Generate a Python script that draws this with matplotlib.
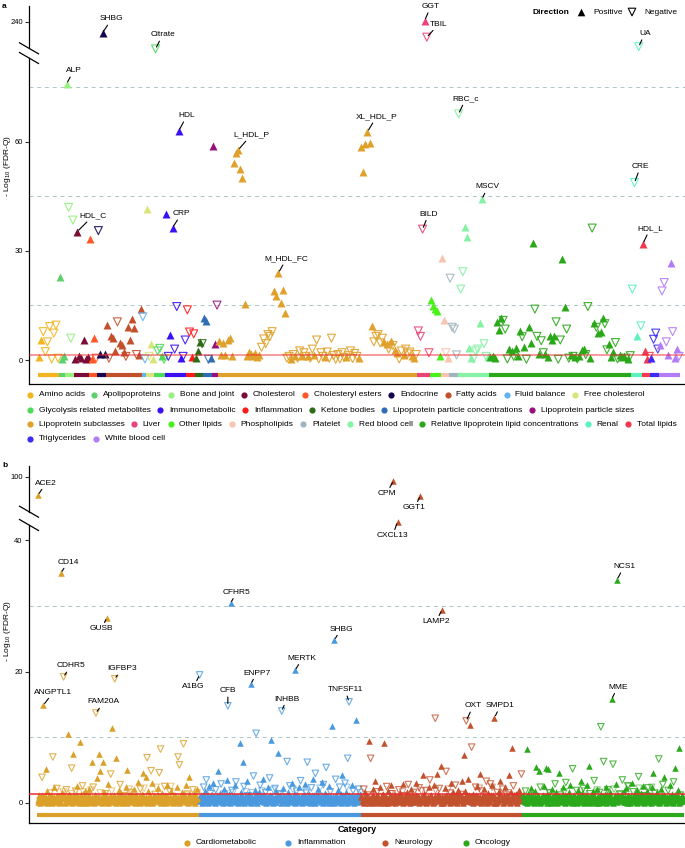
import numpy as np
import matplotlib
matplotlib.use("Agg")
import matplotlib.pyplot as plt

plt.rcParams['font.family'] = ['Liberation Sans', 'DejaVu Sans']
plt.rcParams['mathtext.fontset'] = 'custom'
plt.rcParams['mathtext.rm'] = 'Liberation Sans'

# ---------------- panel a : signed -log10(FDR-Q), sign = direction ----------------
a_categories = [
	"Amino acids", "Apolipoproteins", "Bone and joint", "Cholesterol", "Cholesteryl esters",
	"Endocrine", "Fatty acids", "Fluid balance", "Free cholesterol", "Glycolysis related metabolites",
	"Immunometabolic", "Inflammation", "Ketone bodies", "Lipoprotein particle concentrations",
	"Lipoprotein particle sizes", "Lipoprotein subclasses", "Liver", "Other lipids", "Phospholipids",
	"Platelet", "Red blood cell", "Relative lipoprotein lipid concentrations", "Renal",
	"Total lipids", "Triglycerides", "White blood cell",
]
a_colors = [
	"#F2B51F", "#5ED06D", "#98F07E", "#7B0C35", "#FF5626", "#16064F", "#C2512B", "#63B4F4",
	"#D9E47A", "#4FDB5A", "#3C10F5", "#FF1A1A", "#2D6B15", "#2F6DB3", "#94117E", "#DFA12B",
	"#EA4477", "#4BF01B", "#F8C3AF", "#A2B4BF", "#86F2A5", "#2BA819", "#5CF2C0", "#F2394F",
	"#3B2BF7", "#B47BF7",
]

amino_acids = [0.9, 5.5, -7.8, -2.3, -5, -9.2, -0.3, -7.4, -9.6, -0.5]
apolipoproteins = [22.9, 0.3, 1.2]
bone_and_joint = [76, -42, -6, -38.5]
cholesterol = [0.4, 35.3, 1, 0.6, 5.5, 0.3, 0.8]
cholesteryl_esters = [33.3, 0.2, 6, -0.5]
endocrine = [-35.6, 1.6, 228, 1.7]
fatty_acids = [9.6, -0.5, 6.7, 6, 2.5, -10.5, 4.7, 4, 2.2, -1, 9.2, 5.5, 11.3, 8.8, -1.5, 1.5, 14]
fluid_balance = [-11.9, -0.3]
free_cholesterol = [41.5, -1, 4.3, 0.3]
glycolysis = [-210.4, -2.5, -3.2, 1, -0.2]
immunometabolic = [40.2, -1, 7, 36.4, -3, -14.7, 63.1, 0.5, -1, -5.5]
inflammation = [-13.8, -7.7, 0.8, -7.2]
ketone_bodies = [0.6, 2.6, 5, -4.5]
lp_concentrations = [11.5, 10.7, -0.2, 0.5]
lp_sizes = [58.9, 4.4, -15.1]
lp_subclasses = [
	5.2, 1.4, 4.8, 1.5, 5.5, 6, 1.2, 54.3, 57, 57.8, 52.6, 50.1, 15.3,
	1.1, 2.2, 1.6, 1.2, 2, 0.8, 1.5, -3.5, -5.8, -4.5, -7, -6.5, -7.8,
	19, 17.6, 24, 15.6, 19.2, 13,
	-0.5, -1, 0.3, -1.5, 1, -0.5, -2.5, 1.2, -2, -1, 1.2, -0.5, -3, 1.5, -5.5, -0.3, -2, -1,
	0.8, -2.2, -0.5, -6, -1.2, -0.2, -1.5, -0.3, -2, -0.7, 0.9, -1.2, -2.5, -0.4, -1.8, -1, 0.5,
	58.6, 51.6, 59.5, 62.8, 59.8, 9.4,
	-5, -6.5, -7, -4.7, -6, 5, 4.5, -3, 5.2, -4, 2.7, 2, -0.3, -2.5, 1.5, -3, -1.7, -2.2, 1.1, 0.5, -1.5,
]
liver = [-8, -6.5, -36, 241.6, -223.3, -2]
other_lipids = [16.5, 14.8, 14, 13.5, 1]
phospholipids = [28.2, 11, -2, 0.5]
platelet = [-22.5, -9, -8.5, -1.4]
red_blood_cell = [-67.7, -19.5, -24.3, 36.6, 33.8, 3.3, 0.5, -0.3, -2.5, -3, 10.3, 44.3, -4.5, -1, 0.8]
relative_lipids = [
	0.9, 1.2, 0.5, 10.5, 8.3, 11.5, -10.9, -8.5, -0.3, 3, 2.5, -1, 3.2, 1, 8, -6.4, 3.5, -0.2,
	9.1, 4.7, 32.2, -14, -6.5, 1.6, -5.3, -2, 1.7, 0.8, 6.7, 5.4, 6.6, -10.5, -0.2, -5.5, 27.8,
	14.7, -8.5, -0.5, 1.5, -1, 0.8, -0.3, 1.2, 2.7, 3, -1.5, -14.7, 0.5, -36.3, 10.3, -9, 7.5,
	7.8, 11.6, -10, -2.8, 4.3, 0.7, 2.3, -4.8, -0.3, 1.5, 0.8, 1.2, -0.5, 0.3, -1.2,
]
renal = [-19.5, -48.8, 6.6, -212.9, -9.4]
total_lipids = [32, 2.5, 0.3, -1]
triglycerides = [0.5, -5.7, -7.4, -3]
white_blood_cell = [4.1, -19, -21.3, -5, 1.5, 26.6, -7.8, 0.5, 3, -1]

a_values = [
	amino_acids, apolipoproteins, bone_and_joint, cholesterol, cholesteryl_esters, endocrine,
	fatty_acids, fluid_balance, free_cholesterol, glycolysis, immunometabolic, inflammation,
	ketone_bodies, lp_concentrations, lp_sizes, lp_subclasses, liver, other_lipids, phospholipids,
	platelet, red_blood_cell, relative_lipids, renal, total_lipids, triglycerides, white_blood_cell,
]

a_labels = [
	("SHBG", "Endocrine", 228), ("Citrate", "Glycolysis related metabolites", -210.4),
	("ALP", "Bone and joint", 76), ("HDL", "Immunometabolic", 63.1),
	("L_HDL_P", "Lipoprotein subclasses", 57.8), ("XL_HDL_P", "Lipoprotein subclasses", 62.8),
	("M_HDL_FC", "Lipoprotein subclasses", 24), ("HDL_C", "Cholesterol", 35.3),
	("CRP", "Immunometabolic", 36.4), ("GGT", "Liver", 241.6), ("TBIL", "Liver", -223.3),
	("BILD", "Liver", -36), ("UA", "Renal", -212.9), ("RBC_c", "Red blood cell", -67.7),
	("CRE", "Renal", -48.8), ("MSCV", "Red blood cell", 44.3), ("HDL_L", "Total lipids", 32),
]

# ---------------- panel b : proteins ----------------
b_categories = ["Cardiometabolic", "Inflammation", "Neurology", "Oncology"]
b_colors = ["#DBA02A", "#4A99DE", "#C2522E", "#2BA81B"]

cardiometabolic = [
	75.4, 1.2, 0.4, -3.9, 14.9, 0.8, 5.2, 1.9, 0.3, -1.5, 0.9, -7, 2.4, 0.6, -2.2, 1.1, 0.2, 35,
	1.6, -19.2, 0.7, -2, 10.5, 1.3, 0.4, -5.3, 7.5, 1, -1.8, 2.6, 0.5, 9.3, 1.4, -2.6, 0.3, 1.8,
	-1.2, 0.9, 2.2, 0.1, 6.3, -2.4, 1.2, -13.7, 3.8, 7.4, 4.9, 0.6, 6.2, 1.7, -1.4, 28.2, 2.9,
	0.8, -4.4, 11.4, 1.1, -18.9, 6.9, 0.4, 2, -2.8, 1.5, 0.2, -1.1, 2.5, 5, 0.7, -1.6, 1.3, 0.5,
	2.1, -0.8, 1, 3.2, 0.3, -2.1, 1.4, 4.5, 0.6, 4, -6.9, 1.8, 0.2, -4.9, 3.1, 1.2, -1.3, 0.8,
	2.3, -4.6, -8.2, 1.5, 0.4, -2.5, 1.1, 2.7, 0.6, -1.7, 1.9, 0.3, -0.9, 1.2, 2.4, -7, -5.8,
	0.7, 1.6, -9, 0.5, 2.8, -1.2, 4, 1, 0.4, -2, 1.3, 0.8, 2.2, 0.6,
]
inflammation_b = [
	-19.5, 1.2, 0.5, -2.4, 1.8, -3.5, 0.9, 2.6, -1.4, 0.3, 3.1, 1.1, -2, 0.6, 4.8, 1.5, -2.9,
	0.8, 2.2, 0.2, 3.5, -14.8, 1.3, 30.4, -1.9, 0.7, 2.8, -3.2, 1, 0.4, 9.1, 1.6, 6.2, -2.5, 0.9,
	3.3, -1.1, 1.4, 18.1, 0.5, -4.1, 2, -10.6, 0.8, 1.7, -2.7, 0.3, 3.6, 1.2, -1.6, 0.6, 2.5,
	-3.8, 9.6, 1, 0.2, -2.2, 1.9, 7.6, 0.7, -1.3, -14, 2.3, 1.1, 0.4, -6.3, 1.6, -2.6, 0.8, 3,
	1.3, 20.2, -1.8, 0.5, 2.4, -3.4, 1, 0.3, 2.9, -1.5, -6.2, 1.4, 0.6, -2.3, 3.7, 1.2, -4.5,
	0.9, 2.1, -1, 0.4, 3.2, -2.8, 1.5, -5.4, 0.7, 2.6, -1.7, 11.7, 1.1, 24.8, -3.6, 0.5, 2,
	-2.4, 1.3, 4.2, 0.8, -3, 1.6, -6.8, -15.4, 0.6, 2.7, -1.9, 1, 12.6, 0.3, -2.1, 1.4,
]
neurology = [
	1.1, 0.4, -2.1, 1.6, 0.8, -1.2, 9.5, -6.8, 0.3, 2.2, 3.4, 1, -1.7, 0.6, 2.4, -0.9, 1.3, 9.2,
	0.5, -2.5, 1.8, 0.2, 2.7, -1.4, 94.7, 1.2, 0.7, 42.8, -2, 1.5, 0.4, 2.9, -1.1, 0.9, 1.7,
	-2.8, 0.3, 2.1, 1.2, -1.6, 0.6, 3.1, 1, -2.3, 74.5, 0.8, 4.3, 1.4, -1.9, 0.5, 2.5, -3.5,
	1.1, 0.2, 2.8, -12.9, 4.4, 1.3, -2.2, 5.6, 29.4, 0.7, 2.3, -4.8, 1, 0.4, -1.5, 3, 1.6, 0.3,
	-2.7, 1.2, 2, 0.6, -1.3, 3.4, 7.3, 1.9, -12.5, 3.6, 0.8, 11.8, -8.5, 1.4, 0.5, -2.4, 2.6,
	1.1, 4.4, -1.8, 0.9, 2.2, 0.4, -3.3, 1.5, 0.7, -2.9, 2.7, 1.2, 13, 0.3, -1.6, 1.8, 3.3, 0.6,
	-2.1, 1, 2.4, -1.2, 0.5, 4.3, 1.7, 8.3, -2.6, 0.8, 1.3, -1, 2, 0.4, -4.4,
]
oncology = [
	1.2, 0.5, -1.8, 8.2, 1.4, 0.3, 2.3, -1.1, 0.8, 1.9, 5.5, 0.6, 4.8, -2.4, 1.1, 0.4, 2.6, 5.4,
	1.3, 5.1, -1.5, 0.7, 2.1, 0.2, -2.9, 1.6, 0.9, 4.6, -1.2, 0.5, 2.4, 1, -3.1, 0.3, 1.7, 2.8,
	0.6, -5.2, 1.2, 0.4, -1.9, 2, 0.8, 3.3, 1.5, -2.2, 0.2, 1.1, 2.7, 5.6, -1.4, 0.7, 1.8, -3.4,
	0.5, 2.2, 1, -1.6, -11.6, 0.3, -6.3, 1.4, 2.5, -2, 0.9, 1.6, 15.8, -5.9, 0.4, 2.9, 34, 1.2,
	-1.3, 0.6, -3.5, 1.9, 0.2, 2.3, -2.6, 1, 0.5, 3, -1.7, 1.3, 0.8, 2, -4, 0.4, 1.5, 2.6, -1.1,
	0.7, 1.8, -2.3, 0.3, 1.2, 2.4, 4.6, -1.5, 0.9, 1.6, -6.7, 0.5, 2.1, -2.8, 4, 1.1, 0.3, -1.9,
	2.7, 0.6, 1.4, -3.2, 5.3, 0.8, 2, 8.3, -1.2, 1, 0.4,
]
b_values = [cardiometabolic, inflammation_b, neurology, oncology]

# non-significant proteins forming the dense band; one character per protein,
# base-20 code in steps of 0.14: '0'-'9' positive (filled), 'a'-'j' negative (open, above the band)
cardiometabolic_bg = (
	"31705294618273051946280375162940837159c6"
	"0847261593a02817463950271840c6392051873e"
	"6152093847162b5038274916052837d419620573"
	"8241960375182049f637152803946217058392g4"
	"1705384926071853h492615038271940856317i2"
	"5093817264051928374615a02938471650283b47"
)
inflammation_bg = (
	"52830169473820517493628104957362184059a7"
	"1946207358b192847063519284037c562918407b"
	"2736190485726d3918406275193840e52718394a"
	"9304827156038294715f6203948175260384915c"
	"4817305926180473952g61840372951840637125"
	"0629384157203946185h0729361845027391846b"
)
neurology_bg = (
	"7261038594720153869402718365014927380615"
	"4039a71852903648271953c08274615930471826"
	"1593827046d19382705164829370518e46293750"
	"8406172935f80614927358104629378105647293"
	"2958140376294815g630729185403762198h5403"
	"6017283946501827394b61052839476102938475"
)
oncology_bg = (
	"3928175064831927504618293705164928370516"
	"9b40728361950482736194c08273519460382715"
	"2059381746205d93817406259381740e62059318"
	"7164029358716402f93581764a293581764029i5"
	"0483627195048g362719504836271950h4836271"
	"5830164927593016482751301649275830164927"
)
b_background = [cardiometabolic_bg, inflammation_bg, neurology_bg, oncology_bg]

b_labels = [
	("ACE2", "Cardiometabolic", 75.4), ("ANGPTL1", "Cardiometabolic", 14.9),
	("CD14", "Cardiometabolic", 35), ("CDHR5", "Cardiometabolic", -19.2),
	("FAM20A", "Cardiometabolic", -13.7), ("GUSB", "Cardiometabolic", 28.2),
	("IGFBP3", "Cardiometabolic", -18.9), ("A1BG", "Inflammation", -19.5),
	("CFB", "Inflammation", -14.8), ("CFHR5", "Inflammation", 30.4),
	("ENPP7", "Inflammation", 18.1), ("INHBB", "Inflammation", -14),
	("MERTK", "Inflammation", 20.2), ("SHBG", "Inflammation", 24.8),
	("TNFSF11", "Inflammation", -15.4), ("CPM", "Neurology", 94.7),
	("CXCL13", "Neurology", 42.8), ("GGT1", "Neurology", 74.5), ("LAMP2", "Neurology", 29.4),
	("OXT", "Neurology", -12.5), ("SMPD1", "Neurology", 13), ("NCS1", "Oncology", 34),
	("MME", "Oncology", 15.8),
]

# label offsets in pixels (dx, dy up)
a_offsets = {
	"SHBG": (9, 14), "Citrate": (7, 14), "ALP": (7, 13), "HDL": (8, 15), "L_HDL_P": (13, 15),
	"XL_HDL_P": (9, 15), "M_HDL_FC": (8, 14), "HDL_C": (16, 16), "CRP": (9, 14), "GGT": (6, 14),
	"TBIL": (12, 13), "UA": (6, 13), "RBC_c": (7, 15), "CRE": (6, 16), "MSCV": (6, 12),
	"BILD": (6, 15), "HDL_L": (7, 15),
}
b_offsets = {
	"ACE2": (8, 12), "CD14": (7, 11), "GUSB": (-5, -11), "CDHR5": (7, 11), "IGFBP3": (7, 10),
	"ANGPTL1": (10, 13), "FAM20A": (8, 11), "A1BG": (-6, -12), "CFB": (0, 15), "CFHR5": (6, 11),
	"ENPP7": (6, 11), "MERTK": (7, 12), "SHBG": (7, 11), "INHBB": (5, 12), "TNFSF11": (-4, 12),
	"CPM": (-7, -13), "GGT1": (-6, -12), "CXCL13": (-5, -14), "LAMP2": (-6, -12), "NCS1": (7, 13),
	"MME": (6, 12), "OXT": (7, 15), "SMPD1": (6, 12),
}

W, H = 685, 848
fig = plt.figure(figsize=(W / 100, H / 100), dpi=100)


def px_axes(left, top, right, bottom):
	return fig.add_axes([left / W, 1 - bottom / H, (right - left) / W, (bottom - top) / H])


def broken_scale(low_top, gap_top, up_start, slope):
	"""piecewise linear y transform that squeezes the gap between two ranges"""
	xp = np.array([-1e3, low_top, up_start, 1e4])
	fp = np.array([-1e3, low_top, gap_top, gap_top + (1e4 - up_start) * slope])
	return (lambda y: np.interp(y, xp, fp)), (lambda t: np.interp(t, fp, xp))


def decode_band(code):
	vals = np.array([int(ch, 20) for ch in code]) * 0.14
	is_open = np.array([ch.isalpha() for ch in code])
	return vals, is_open


def plot_groups(ax, groups, colors, size, strip_y, open_alpha, backgrounds=None):
	x0 = 0
	starts = []
	for g, (vals, col) in enumerate(zip(groups, colors)):
		v = np.array(vals, dtype=float)
		x = np.arange(x0, x0 + len(v))
		if backgrounds is not None:
			bv, bopen = decode_band(backgrounds[g])
			bx = x0 - 0.5 + (np.arange(len(bv)) + 0.5) * len(v) / len(bv)
			ax.scatter(bx[~bopen], bv[~bopen], marker='^', s=size, color=col, linewidths=0, zorder=2.6)
			ax.scatter(bx[bopen], bv[bopen], marker='v', s=size, facecolors='none', edgecolors=col,
					   linewidths=0.7, alpha=0.6, zorder=2.5)
		up = v >= 0
		ax.scatter(x[up], v[up], marker='^', s=size, color=col, linewidths=0, zorder=3)
		ax.scatter(x[~up], -v[~up], marker='v', s=size, facecolors='none', edgecolors=col,
				   linewidths=0.8, alpha=open_alpha, zorder=3)
		ax.plot([x0 - 0.5, x0 + len(v) - 0.5], [strip_y, strip_y], color=col, lw=3,
				solid_capstyle='butt', zorder=2, clip_on=False)
		starts.append(x0)
		x0 += len(v)
	return starts, x0


def style_axes(ax, fwd, inv, ylim, ticks, n, first_px, last_px, gap_fracs):
	ax.set_yscale('function', functions=(fwd, inv))
	ax.set_ylim(ylim)
	step = (last_px - first_px) / (n - 1)
	left_px = ax.get_position().x0 * W
	right_px = ax.get_position().x1 * W
	ax.set_xlim(-(first_px - left_px) / step, (n - 1) + (right_px - last_px) / step)
	ax.set_yticks(ticks)
	ax.set_yticklabels([str(t) for t in ticks])
	ax.set_xticks([])
	for side in ['top', 'right', 'left']:
		ax.spines[side].set_visible(False)
	ax.spines['bottom'].set_linewidth(0.9)
	ax.tick_params(axis='y', length=3, width=0.8, labelsize=5.5, pad=1.5, color='#333333')
	# left axis line with a gap at the break
	ax.plot([0, 0], [0, gap_fracs[0]], transform=ax.transAxes, color='black', lw=0.9, clip_on=False)
	ax.plot([0, 0], [gap_fracs[1], 1], transform=ax.transAxes, color='black', lw=0.9, clip_on=False)


def add_labels(ax, labels, offsets, groups, cats, starts):
	for name, cat, val in labels:
		k = cats.index(cat)
		i = starts[k] + groups[k].index(val)
		ax.annotate(name, xy=(i, abs(val)), xytext=offsets[name], textcoords='offset pixels',
					ha='center', va='center', fontsize=6,
					arrowprops=dict(arrowstyle='-', color='black', lw=0.8, shrinkA=0, shrinkB=1.5),
					zorder=6)


DASH = '#A8C6C8'
RED = '#EE2A2E'

# ---------------- panel a ----------------
ax_a = px_axes(29, 6, 685, 384)
fwd_a, inv_a = broken_scale(82, 83, 200, 0.25)
starts_a, n_a = plot_groups(ax_a, a_values, a_colors, 33, -4.1, 0.9)
for yv in [15, 45, 75]:
	ax_a.axhline(yv, color=DASH, lw=0.7, ls=(0, (4, 4)), zorder=1)
ax_a.axhline(1.3, color=RED, lw=1.1, alpha=0.6, zorder=4)
style_axes(ax_a, fwd_a, inv_a, (-6.6, 257.6), [0, 30, 60, 240], n_a, 39, 679,
		   ((384 - 58) / 378, (384 - 48.3) / 378))
add_labels(ax_a, a_labels, a_offsets, a_values, a_categories, starts_a)

# ---------------- panel b ----------------
ax_b = px_axes(29, 466, 685, 822.7)
fwd_b, inv_b = broken_scale(43, 44, 50, 0.1132)
starts_b, n_b = plot_groups(ax_b, b_values, b_colors, 22, -1.8, 0.8, backgrounds=b_background)
for yv in [10, 30]:
	ax_b.axhline(yv, color=DASH, lw=0.7, ls=(0, (4, 4)), zorder=1)
ax_b.axhline(1.3, color=RED, lw=1.1, zorder=4)
style_axes(ax_b, fwd_b, inv_b, (-3.0, 114.5), [0, 20, 40, 100], n_b, 38, 683,
		   ((822.7 - 525) / 356.7, (822.7 - 511.7) / 356.7))
add_labels(ax_b, b_labels, b_offsets, b_values, b_categories, starts_b)

# ---------------- overlay in pixel coordinates ----------------
ov = fig.add_axes([0, 0, 1, 1])
ov.set_xlim(0, W)
ov.set_ylim(H, 0)
ov.axis('off')
renderer = fig.canvas.get_renderer()

# axis break marks
for yc in [48.3, 58, 511.7, 525]:
	ov.plot([29 - 9.5, 29 + 9.5], [yc - 5.5, yc + 5.5], color='black', lw=0.9)

fig.text(8 / W, 1 - 166 / H, '- Log$_{10}$ (FDR-Q)', rotation=90, ha='center', va='center', fontsize=6)
fig.text(8 / W, 1 - 631 / H, '- Log$_{10}$ (FDR-Q)', rotation=90, ha='center', va='center', fontsize=6)
ov.text(2, 3, 'a', fontsize=6, fontweight='bold', ha='left', va='top')
ov.text(2, 462, 'b', fontsize=6, fontweight='bold', ha='left', va='top')

# direction legend
ov.text(533, 12, 'Direction', fontsize=6, fontweight='bold', ha='left', va='center')
ov.scatter([581], [12], marker='^', s=30, color='black', linewidths=0)
ov.text(593, 12, 'Positive', fontsize=6, ha='left', va='center')
ov.scatter([632], [12], marker='v', s=30, facecolors='none', edgecolors='black', linewidths=0.8)
ov.text(644, 12, 'Negative', fontsize=6, ha='left', va='center')

# panel a category legend
rows = [9, 6, 9, 2]
row_y = [395, 410, 424, 438.7]
k = 0
for n_items, yrow in zip(rows, row_y):
	xpos = 30
	for _ in range(n_items):
		ov.scatter([xpos], [yrow], s=20, color=a_colors[k], linewidths=0)
		t = ov.text(xpos + 8.7, yrow, a_categories[k], fontsize=6, ha='left', va='center')
		xpos += 8.7 + t.get_window_extent(renderer=renderer).width + 9.7
		k += 1

# panel b category legend
ov.text(357, 829, 'Category', fontsize=6.5, fontweight='bold', ha='center', va='center')
for xm, name, col in zip([187, 288, 385, 466], b_categories, b_colors):
	ov.scatter([xm], [843], s=20, color=col, linewidths=0)
	ov.text(xm + 9, 843, name, fontsize=6, ha='left', va='center')

fig.savefig('out.png', dpi=100)
